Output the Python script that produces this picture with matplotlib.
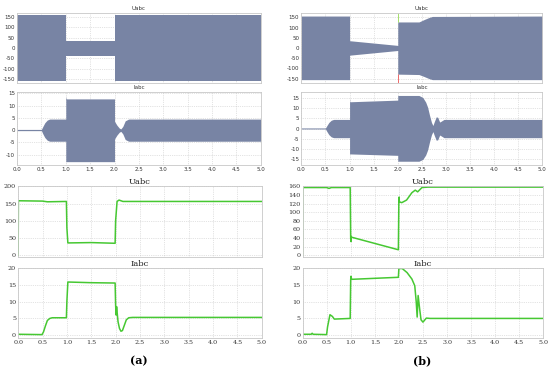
import numpy as np
import matplotlib.pyplot as plt

plt.rcParams["axes.unicode_minus"] = False

# ---- (a) waveform envelopes ----
ua_t = [0, 1.0, 1.0, 2.0, 2.0, 5.0]
ua_hi = [158, 158, 36, 36, 158, 158]
ua_lo = [-158, -158, -37, -37, -158, -158]

ia_t = [0, 0.5, 0.53, 0.57, 0.62, 0.67, 1.0, 1.0, 1.005, 1.02, 2.0, 2.0, 2.05, 2.1, 2.13, 2.17, 2.22, 2.29, 5.0]
ia_hi = [0.3, 0.3, 1.5, 3.0, 4.1, 4.5, 4.5, 14.0, 13.0, 12.7, 12.7, 3.6, 2.0, 0.8, 0.5, 1.5, 3.8, 4.5, 4.5]
ia_lo = [-0.2, -0.2, -1.5, -3.0, -4.1, -4.5, -4.5, -13.0, -12.8, -12.8, -12.8, -3.6, -2.0, -0.8, -0.5, -1.5, -3.8, -4.5, -4.5]

# ---- (b) waveform envelopes ----
ub_t = [0, 1.0, 1.0, 2.0, 2.0, 2.44, 2.55, 2.65, 2.72, 5.0]
ub_hi = [157, 157, 36, 13, 128, 128, 140, 150, 155, 157]
ub_lo = [-155, -155, -35, -12, -128, -130, -140, -150, -155, -155]

ib_t = [0, 0.5, 0.53, 0.57, 0.62, 0.67, 1.0, 1.0, 1.005, 1.02, 2.0, 2.0, 2.44, 2.52, 2.58, 2.62, 2.66, 2.70, 2.73,
        2.76, 2.8, 2.83, 2.87, 2.9, 2.96, 5.0]
ib_hi = [0.3, 0.3, 1.5, 3.0, 4.1, 4.5, 4.5, 15.0, 13.2, 13.2, 14.0, 16.3, 16.3, 15.3, 13.0, 10.5, 6.5, 3.0, 1.5,
         3.5, 5.8, 5.5, 3.2, 3.6, 4.5, 4.5]
ib_lo = [-0.2, -0.2, -1.5, -3.0, -4.1, -4.5, -4.5, -12.5, -12.5, -12.5, -13.2, -16.1, -16.1, -15.2, -13.0, -10.5, -6.5, -3.0, -1.5,
         -3.5, -5.8, -5.5, -3.2, -3.6, -4.5, -4.5]

# ---- (a) RMS curves ----
ura_t = [0, 0.005, 0.5, 0.6, 0.99, 1.0, 1.02, 1.5, 1.99, 2.0, 2.03, 2.07, 2.15, 2.5, 5.0]
ura_v = [0, 158, 157, 155, 156, 80, 36, 37, 35, 100, 156, 160, 156, 156, 156]

ira_t = [0, 0.49, 0.52, 0.56, 0.6, 0.65, 0.7, 0.99, 1.0, 1.02, 1.5, 1.99, 2.0, 2.01, 2.02, 2.05, 2.08, 2.11, 2.14,
         2.18, 2.22, 2.27, 2.35, 5.0]
ira_v = [0.3, 0.2, 1.0, 2.8, 4.4, 5.0, 5.2, 5.2, 10, 15.8, 15.6, 15.5, 9.0, 6.0, 8.5, 4.0, 2.0, 1.2, 1.4,
         3.0, 4.6, 5.2, 5.3, 5.3]

# ---- (b) RMS curves ----
urb_t = [0, 0.005, 0.5, 0.55, 0.6, 0.99, 1.0, 1.005, 1.01, 1.02, 1.99, 2.0, 2.005, 2.01, 2.06, 2.16, 2.27, 2.34,
         2.39, 2.48, 2.6, 5.0]
urb_v = [0, 157, 157, 155, 157, 157, 40, 32, 44, 42, 13, 130, 135, 124, 122, 128, 145, 151, 147, 157, 158, 158]

irb_t = [0, 0.18, 0.2, 0.22, 0.5, 0.52, 0.57, 0.62, 0.66, 0.99, 1.0, 1.005, 1.02, 1.99, 2.0, 2.07, 2.17, 2.27,
         2.33, 2.36, 2.38, 2.40, 2.43, 2.46, 2.5, 2.57, 2.65, 5.0]
irb_v = [0.3, 0.3, 0.6, 0.3, 0.2, 2.5, 6.1, 5.6, 4.8, 5.0, 16.5, 17.5, 16.6, 17.2, 19.8, 19.8, 18.6, 16.7,
         14.7, 10.0, 5.4, 11.8, 8.0, 4.6, 3.9, 5.1, 5.0, 5.0]

xticks = np.arange(0, 5.01, 0.5)
wave_col = "#7884a4"
line_col = "#46c832"
edge_col = "#c8c8c8"


def style(ax, ylim, yticks, show_x, serif):
    fam = "DejaVu Serif" if serif else "DejaVu Sans"
    fs = 4.6 if serif else 4.0
    ax.set_axisbelow(True)
    ax.set_xlim(0, 5)
    ax.set_ylim(*ylim)
    ax.set_xticks(xticks)
    ax.set_yticks(yticks)
    ax.grid(True, linestyle=":", linewidth=0.5, color="#c8c8c8")
    for s in ax.spines.values():
        s.set_color(edge_col)
        s.set_linewidth(0.6)
    ax.tick_params(length=0, pad=1.5, labelsize=fs, colors="#333333")
    for lab in ax.get_xticklabels() + ax.get_yticklabels():
        lab.set_family(fam)
    if show_x:
        ax.set_xticklabels(["%.1f" % v for v in xticks])
    else:
        ax.set_xticklabels([])


fig = plt.figure(figsize=(5.5, 3.71), dpi=100)

cols = [0.031, 0.548]
widths = [0.443, 0.438]
rows = [(0.776, 0.189), (0.555, 0.197), (0.307, 0.191), (0.089, 0.189)]

waves = [(ua_t, ua_hi, ua_lo, ia_t, ia_hi, ia_lo, (-170, 170), (-14.2, 15.5), [-150, -100, -50, 0, 50, 100, 150],
          [-10, -5, 0, 5, 10, 15]),
         (ub_t, ub_hi, ub_lo, ib_t, ib_hi, ib_lo, (-172, 172), (-18, 18), [-150, -100, -50, 0, 50, 100, 150],
          [-15, -10, -5, 0, 5, 10, 15])]
rms = [(ura_t, ura_v, ira_t, ira_v, (-5, 200), np.arange(0, 201, 50)),
       (urb_t, urb_v, irb_t, irb_v, (-4, 160), np.arange(0, 161, 20))]

for c in range(2):
    x0, w = cols[c], widths[c]
    ut, uhi, ulo, it, ihi, ilo, ulim, ilim, uyt, iyt = waves[c]

    ax = fig.add_axes([x0, rows[0][0], w, rows[0][1]])
    ax.fill_between(ut, ulo, uhi, color=wave_col, linewidth=0)
    style(ax, ulim, uyt, False, False)
    ax.set_title("Uabc", fontsize=4, pad=2, color="#333333")
    if c == 1:
        ax.vlines(2.0, 128, 172, color="#99dd55", linewidth=0.6)
        ax.vlines(2.0, -172, -128, color="#ee5555", linewidth=0.6)

    ax = fig.add_axes([x0, rows[1][0], w, rows[1][1]])
    ax.fill_between(it, ilo, ihi, color=wave_col, linewidth=0)
    style(ax, ilim, iyt, True, False)
    ax.set_title("Iabc", fontsize=4, pad=2, color="#333333")

    urt, urv, irt, irv, rlim, ryt = rms[c]
    ax = fig.add_axes([x0 + 0.002, rows[2][0], w, rows[2][1]])
    ax.plot(urt, urv, color=line_col, linewidth=1.1)
    style(ax, rlim, ryt, False, True)
    ax.set_title("Uabc", fontsize=6, pad=1.5, family="DejaVu Serif", color="#222222")

    ax = fig.add_axes([x0 + 0.002, rows[3][0], w, rows[3][1]])
    ax.plot(irt, irv, color=line_col, linewidth=1.1)
    style(ax, (-0.8, 20), [0, 5, 10, 15, 20], True, True)
    ax.set_title("Iabc", fontsize=6, pad=1.5, family="DejaVu Serif", color="#222222")

fig.text(0.252, 0.028, "(a)", ha="center", va="center", fontsize=8, fontweight="bold", family="DejaVu Serif")
fig.text(0.767, 0.028, "(b)", ha="center", va="center", fontsize=8, fontweight="bold", family="DejaVu Serif")

fig.savefig("out.png", dpi=100)
